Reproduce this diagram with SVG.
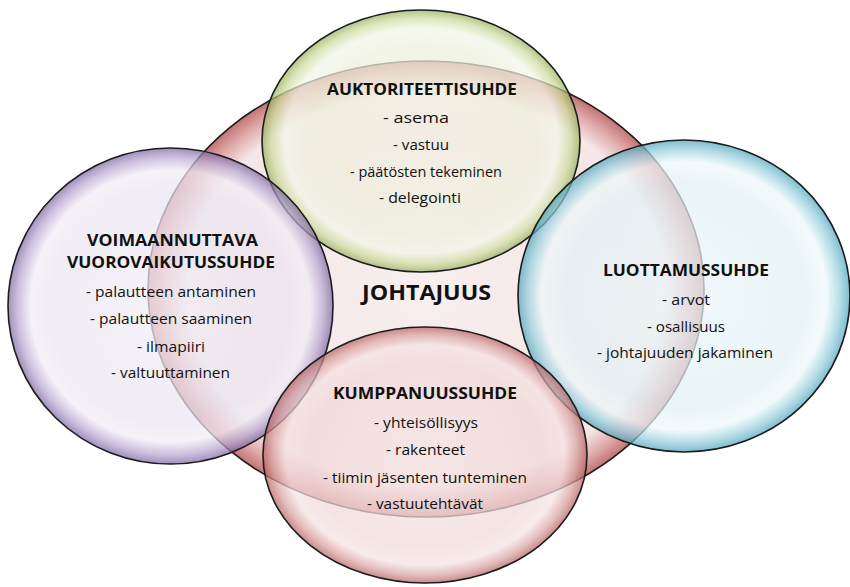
<svg xmlns="http://www.w3.org/2000/svg" width="850" height="587" viewBox="0 0 850 587">
<style>
.bub{stroke:#1c1c1c;stroke-width:1.6}
.t{font-family:"Open Sans","Liberation Sans",sans-serif;fill:#111111;text-anchor:middle}
.h{font-size:15.5px;font-weight:bold}
.i{font-size:14px}
.big{font-size:22px;font-weight:bold}
</style>
<defs>
<radialGradient id="gPink" cx="0.5" cy="0.5" r="0.5">
<stop offset="0" stop-color="#f8efef"/>
<stop offset="0.72" stop-color="#f4e5e5"/>
<stop offset="0.86" stop-color="#f6e8e8"/>
<stop offset="0.94" stop-color="#dfa9a9"/>
<stop offset="1" stop-color="#c27474"/>
</radialGradient>
<radialGradient id="gGreen" cx="0.5" cy="0.5" r="0.5">
<stop offset="0" stop-color="#f2f0e4"/>
<stop offset="0.72" stop-color="#edf0dc"/>
<stop offset="0.86" stop-color="#f3f6ea"/>
<stop offset="0.94" stop-color="#cddc9e"/>
<stop offset="1" stop-color="#97ae5e"/>
</radialGradient>
<radialGradient id="gPurple" cx="0.5" cy="0.5" r="0.5">
<stop offset="0" stop-color="#f2eef6"/>
<stop offset="0.72" stop-color="#ebe5f1"/>
<stop offset="0.86" stop-color="#f1edf6"/>
<stop offset="0.94" stop-color="#b9a9d2"/>
<stop offset="1" stop-color="#7c66a2"/>
</radialGradient>
<radialGradient id="gBlue" cx="0.5" cy="0.5" r="0.5">
<stop offset="0" stop-color="#ebf6f9"/>
<stop offset="0.72" stop-color="#e2f1f5"/>
<stop offset="0.86" stop-color="#eef8fa"/>
<stop offset="0.94" stop-color="#98d0de"/>
<stop offset="1" stop-color="#4ea4bd"/>
</radialGradient>
<radialGradient id="gRed" cx="0.5" cy="0.5" r="0.5">
<stop offset="0" stop-color="#f6e6e6"/>
<stop offset="0.72" stop-color="#f1d9d9"/>
<stop offset="0.86" stop-color="#f5e3e3"/>
<stop offset="0.94" stop-color="#daa2a2"/>
<stop offset="1" stop-color="#b66060"/>
</radialGradient>
</defs>
<rect width="850" height="587" fill="#ffffff"/>

<g id="node-johtajuus">
<ellipse class="bub" cx="426" cy="289" rx="278" ry="228" fill="url(#gPink)"/>
<text class="t big" x="426.5" y="300" textLength="129" lengthAdjust="spacingAndGlyphs">JOHTAJUUS</text>
</g>

<g id="node-auktoriteettisuhde">
<ellipse class="bub" cx="421" cy="141" rx="159" ry="131" fill="url(#gGreen)" fill-opacity="0.72"/>
<text class="t h" x="422" y="95" textLength="190" lengthAdjust="spacingAndGlyphs">AUKTORITEETTISUHDE</text>
<text class="t i" x="416" y="123" textLength="66" lengthAdjust="spacingAndGlyphs">- asema</text>
<text class="t i" x="421" y="150" textLength="56" lengthAdjust="spacingAndGlyphs">- vastuu</text>
<text class="t i" x="426" y="177" textLength="152" lengthAdjust="spacingAndGlyphs">- päätösten tekeminen</text>
<text class="t i" x="420" y="203" textLength="82" lengthAdjust="spacingAndGlyphs">- delegointi</text>
</g>

<g id="node-voimaannuttava">
<ellipse class="bub" cx="170.5" cy="306" rx="162.5" ry="158" fill="url(#gPurple)" fill-opacity="0.72"/>
<text class="t h" x="172.5" y="246" textLength="171" lengthAdjust="spacingAndGlyphs">VOIMAANNUTTAVA</text>
<text class="t h" x="171" y="268" textLength="208" lengthAdjust="spacingAndGlyphs">VUOROVAIKUTUSSUHDE</text>
<text class="t i" x="171" y="297" textLength="170" lengthAdjust="spacingAndGlyphs">- palautteen antaminen</text>
<text class="t i" x="171" y="324" textLength="162" lengthAdjust="spacingAndGlyphs">- palautteen saaminen</text>
<text class="t i" x="171" y="352" textLength="68" lengthAdjust="spacingAndGlyphs">- ilmapiiri</text>
<text class="t i" x="170.5" y="378" textLength="119" lengthAdjust="spacingAndGlyphs">- valtuuttaminen</text>
</g>

<g id="node-luottamussuhde">
<ellipse class="bub" cx="684" cy="296" rx="166" ry="156" fill="url(#gBlue)" fill-opacity="0.72"/>
<text class="t h" x="686" y="276" textLength="166" lengthAdjust="spacingAndGlyphs">LUOTTAMUSSUHDE</text>
<text class="t i" x="686" y="305" textLength="48" lengthAdjust="spacingAndGlyphs">- arvot</text>
<text class="t i" x="686" y="332" textLength="78" lengthAdjust="spacingAndGlyphs">- osallisuus</text>
<text class="t i" x="685" y="358" textLength="176" lengthAdjust="spacingAndGlyphs">- johtajuuden jakaminen</text>
</g>

<g id="node-kumppanuussuhde">
<ellipse class="bub" cx="425" cy="455" rx="162" ry="128" fill="url(#gRed)" fill-opacity="0.72"/>
<text class="t h" x="425" y="399" textLength="184" lengthAdjust="spacingAndGlyphs">KUMPPANUUSSUHDE</text>
<text class="t i" x="426" y="428" textLength="104" lengthAdjust="spacingAndGlyphs">- yhteisöllisyys</text>
<text class="t i" x="425.5" y="455" textLength="79" lengthAdjust="spacingAndGlyphs">- rakenteet</text>
<text class="t i" x="425" y="483" textLength="204" lengthAdjust="spacingAndGlyphs">- tiimin jäsenten tunteminen</text>
<text class="t i" x="425" y="509" textLength="116" lengthAdjust="spacingAndGlyphs">- vastuutehtävät</text>
</g>

<g id="connectors"/>
</svg>
